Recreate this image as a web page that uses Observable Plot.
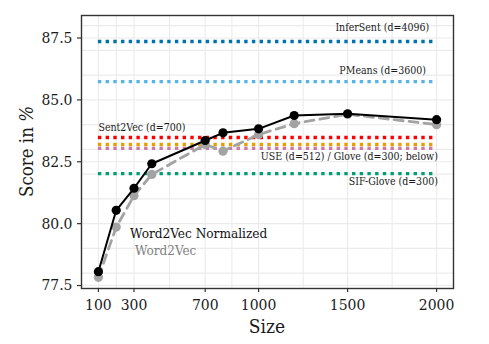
<!DOCTYPE html>
<html>
<head>
<meta charset="utf-8">
<script src="https://cdn.jsdelivr.net/npm/d3@7"></script>
<script src="https://cdn.jsdelivr.net/npm/@observablehq/plot@0.6"></script>
<style>
  html, body { margin: 0; padding: 0; background: #fff; }
  #chart { width: 489px; height: 344px; }
  #chart svg, #chart svg text { font-stretch: condensed; }
</style>
</head>
<body>
<div id="chart"></div>
<script>
// ---- data ----
const sizes = [100, 200, 300, 400, 700, 800, 1000, 1200, 1500, 2000];
const word2vecNormalized = [78.06, 80.54, 81.43, 82.42, 83.36, 83.67, 83.83, 84.37, 84.44, 84.20];
const word2vec = [77.83, 79.86, 81.13, 81.99, 83.20, 82.93, 83.60, 84.04, 84.42, 84.00];

const baselineNames = ["InferSent", "PMeans", "Sent2Vec", "USE", "Glove", "SIF-Glove"];
const baselineScores = [87.36, 85.74, 83.48, 83.20, 83.04, 82.02];
const baselineColors = ["#0072B2", "#56B4E9", "#FF0000", "#E69F00", "#CC79A7", "#009E73"];
const baselineFrom = 100;
const baselineTo = 2000;

// annotation labels (data coordinates)
const endLabels = ["InferSent (d=4096)", "PMeans (d=3600)", "USE (d=512) / Glove (d=300; below)", "SIF-Glove (d=300)"];
const endLabelX = [1958, 1940, 2007, 2007];
const endLabelY = [87.93, 86.19, 82.69, 81.71];
const startLabels = ["Sent2Vec (d=700)"];
const startLabelX = [100];
const startLabelY = [83.90];
const seriesLabels = ["Word2Vec Normalized", "Word2Vec"];
const seriesLabelX = [278, 306];
const seriesLabelY = [79.60, 78.90];
const seriesLabelColors = ["#111111", "#7f7f7f"];
const seriesLabelSizes = [13.5, 13.4];

const xTicks = [100, 300, 700, 1000, 1500, 2000];
const xGrid = [100, 200, 300, 500, 700, 850, 1000, 1250, 1500, 1750, 2000];
const yTicks = [77.5, 80.0, 82.5, 85.0, 87.5];
const yGrid = [77.5, 78, 79, 80, 81, 82, 82.5, 83, 84, 85, 86, 87, 87.5, 88];

// ---- tables ----
const normData = sizes.map((s, i) => ({size: s, score: word2vecNormalized[i]}));
const w2vData = sizes.map((s, i) => ({size: s, score: word2vec[i]}));
const baselines = baselineNames.map((n, i) => ({name: n, score: baselineScores[i], color: baselineColors[i], x1: baselineFrom, x2: baselineTo}));
const endLab = endLabels.map((t, i) => ({t, x: endLabelX[i], y: endLabelY[i]}));
const startLab = startLabels.map((t, i) => ({t, x: startLabelX[i], y: startLabelY[i]}));
const serLab = seriesLabels.map((t, i) => ({t, x: seriesLabelX[i], y: seriesLabelY[i], c: seriesLabelColors[i], s: seriesLabelSizes[i]}));

const W = 489, H = 344, mL = 81, mR = 36, mT = 15, mB = 56;
const font = "DejaVu Serif";

const plot = Plot.plot({
  width: W, height: H,
  marginLeft: mL, marginRight: mR, marginTop: mT, marginBottom: mB,
  style: {fontFamily: font, fontSize: "15.5px", color: "#1a1a1a", background: "#fff"},
  x: {domain: [5, 2095]},
  y: {domain: [77.38, 88.41]},
  marks: [
    Plot.gridX(xGrid, {stroke: "#EBEBEB", strokeOpacity: 1, strokeWidth: 1.1}),
    Plot.gridY(yGrid, {stroke: "#EBEBEB", strokeOpacity: 1, strokeWidth: 1.1}),
    Plot.ruleY(baselines, {y: "score", x1: "x1", x2: "x2", stroke: "color", strokeWidth: 3.4, strokeDasharray: "3.4,4.3"}),
    Plot.line(w2vData, {x: "size", y: "score", stroke: "#a3a3a3", strokeWidth: 2.8, strokeDasharray: "9,6"}),
    Plot.dot(w2vData, {x: "size", y: "score", r: 4.6, fill: "#a3a3a3"}),
    Plot.line(normData, {x: "size", y: "score", stroke: "#000", strokeWidth: 2}),
    Plot.dot(normData, {x: "size", y: "score", r: 4.6, fill: "#000"}),
    Plot.text(endLab, {x: "x", y: "y", text: "t", textAnchor: "end", fontSize: 10.5, fill: "#1a1a1a"}),
    Plot.text(startLab, {x: "x", y: "y", text: "t", textAnchor: "start", fontSize: 10.5, fill: "#1a1a1a"}),
    Plot.text(serLab, {x: "x", y: "y", text: "t", textAnchor: "start", fontSize: "s", fill: "c"}),
    Plot.frame({stroke: "#333", strokeWidth: 1.4}),
    Plot.axisX(xTicks, {tickSize: 4, tickPadding: 6, stroke: "#333", strokeWidth: 1.2, label: null, fill: "#1a1a1a", tickFormat: d => String(d)}),
    Plot.axisY(yTicks, {tickSize: 4, tickPadding: 5, stroke: "#333", strokeWidth: 1.2, label: null, fill: "#1a1a1a", tickFormat: d => d.toFixed(1)})
  ]
});

document.getElementById("chart").appendChild(plot);

const svg = d3.select(plot);
svg.append("text")
  .attr("x", (mL + W - mR) / 2)
  .attr("y", 333)
  .attr("text-anchor", "middle")
  .attr("font-family", font)
  .attr("font-size", 19)
  .attr("fill", "#1a1a1a")
  .text("Size");
const yt = svg.append("text")
  .attr("transform", `translate(33, ${(mT + H - mB) / 2}) rotate(-90)`)
  .attr("text-anchor", "middle")
  .attr("font-family", font)
  .attr("font-size", 18.5)
  .attr("fill", "#1a1a1a");
yt.append("tspan").text("Score in ");
yt.append("tspan").attr("font-style", "italic").text("%");
</script>
</body>
</html>
